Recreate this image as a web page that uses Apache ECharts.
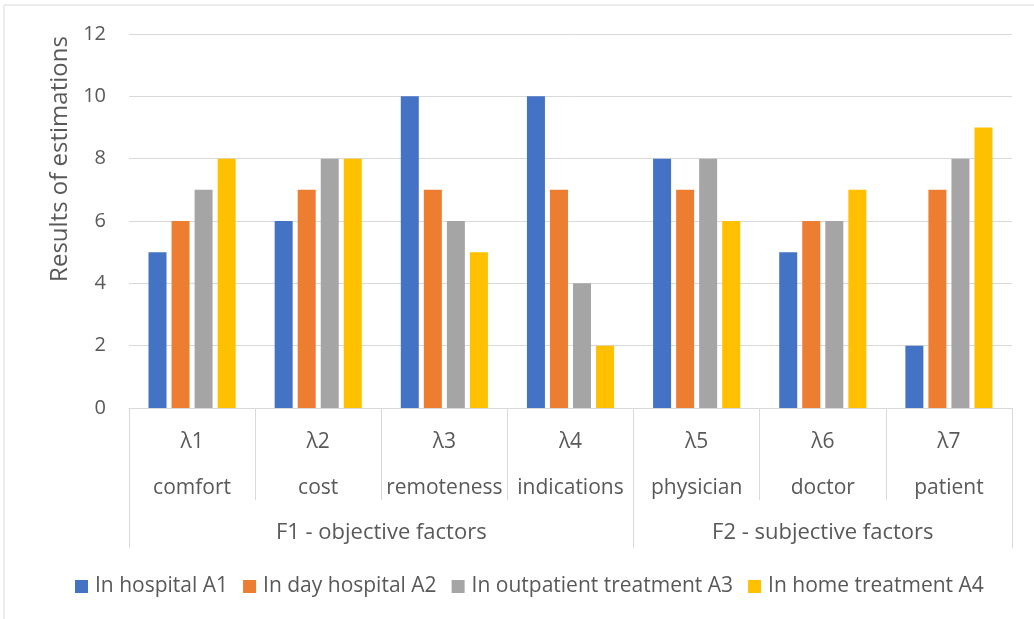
<!DOCTYPE html>
<html>
<head>
<meta charset="utf-8">
<script src="https://cdn.jsdelivr.net/npm/echarts@6/dist/echarts.min.js"></script>
<style>
  html, body { margin: 0; padding: 0; background: #fff; }
  #chart { width: 1034px; height: 619px; }
</style>
</head>
<body>
<div id="chart"></div>
<script>
// ---- data ----
var lambdas = ['λ1', 'λ2', 'λ3', 'λ4', 'λ5', 'λ6', 'λ7'];
var factorNames = ['comfort', 'cost', 'remoteness', 'indications', 'physician', 'doctor', 'patient'];
var groupNames = ['F1 - objective factors', 'F2 - subjective factors'];
var groupSpans = [4, 3];
var seriesNames = ['In hospital A1', 'In day hospital A2', 'In outpatient treatment A3', 'In home treatment A4'];
var hospitalA1 = [5, 6, 10, 10, 8, 5, 2];
var dayHospitalA2 = [6, 7, 7, 7, 7, 6, 7];
var outpatientA3 = [7, 8, 6, 4, 8, 6, 8];
var homeA4 = [8, 8, 5, 2, 6, 7, 9];
var yTicks = [0, 2, 4, 6, 8, 10, 12];

var colors = ['#4472C4', '#ED7D31', '#A5A5A5', '#FFC000'];
var values = [hospitalA1, dayHospitalA2, outpatientA3, homeA4];

// group boundaries and centers (in category units)
var bounds = [0];
groupSpans.forEach(function (s) { bounds.push(bounds[bounds.length - 1] + s); });
var centers = groupSpans.map(function (s, i) { return bounds[i] + s / 2; });

var font = 'Open Sans';
var txt = '#595959';
var lineC = '#D9D9D9';

var chart = echarts.init(document.getElementById('chart'));
chart.setOption({
  animation: false,
  color: colors,
  textStyle: { fontFamily: font },
  graphic: [{
    type: 'rect',
    shape: { x: 4, y: 5, width: 1100, height: 700 },
    style: { fill: 'none', stroke: lineC, lineWidth: 1 },
    silent: true, z: -10
  }],
  grid: { left: 129, right: 22, top: 34, bottom: 211 },
  legend: {
    data: seriesNames,
    bottom: 17,
    left: 70,
    icon: 'rect',
    itemWidth: 13,
    itemHeight: 13,
    itemGap: 15,
    textStyle: { fontFamily: font, fontSize: 21, color: txt, padding: [0, 0, 0, 2] }
  },
  xAxis: [{
    type: 'category',
    data: lambdas,
    axisLine: { show: true, lineStyle: { color: lineC, width: 1 } },
    axisTick: { show: true, interval: 0, alignWithLabel: false, length: 92, lineStyle: { color: lineC } },
    axisLabel: {
      interval: 0,
      margin: 11,
      fontFamily: font,
      fontSize: 21,
      color: txt,
      lineHeight: 46,
      formatter: function (v, i) { return v + '\n' + factorNames[i]; }
    },
    splitLine: { show: false }
  }, {
    type: 'value',
    min: 0,
    max: lambdas.length,
    position: 'bottom',
    axisLine: { show: false },
    splitLine: { show: false },
    axisTick: { show: true, customValues: bounds, length: 140, lineStyle: { color: lineC } },
    axisLabel: {
      show: true,
      customValues: centers,
      margin: 112,
      fontFamily: font,
      fontSize: 22,
      color: txt,
      lineHeight: 26,
      formatter: function (v) {
        var idx = centers.indexOf(v);
        return idx >= 0 ? groupNames[idx] : '';
      }
    }
  }],
  yAxis: {
    type: 'value',
    min: yTicks[0],
    max: yTicks[yTicks.length - 1],
    interval: 2,
    name: 'Results of estimations',
    nameLocation: 'middle',
    nameGap: 54,
    nameRotate: 90,
    nameTextStyle: { fontFamily: font, fontSize: 24, color: txt, padding: [0, 0, 0, 124] },
    axisLine: { show: false },
    axisTick: { show: false },
    axisLabel: { fontFamily: font, fontSize: 20, color: txt, margin: 23 },
    splitLine: { lineStyle: { color: lineC, width: 1 } }
  },
  series: seriesNames.map(function (n, i) {
    return {
      name: n,
      type: 'bar',
      data: values[i],
      barWidth: 18,
      barGap: '28%',
      itemStyle: { color: colors[i] }
    };
  })
});
</script>
</body>
</html>
